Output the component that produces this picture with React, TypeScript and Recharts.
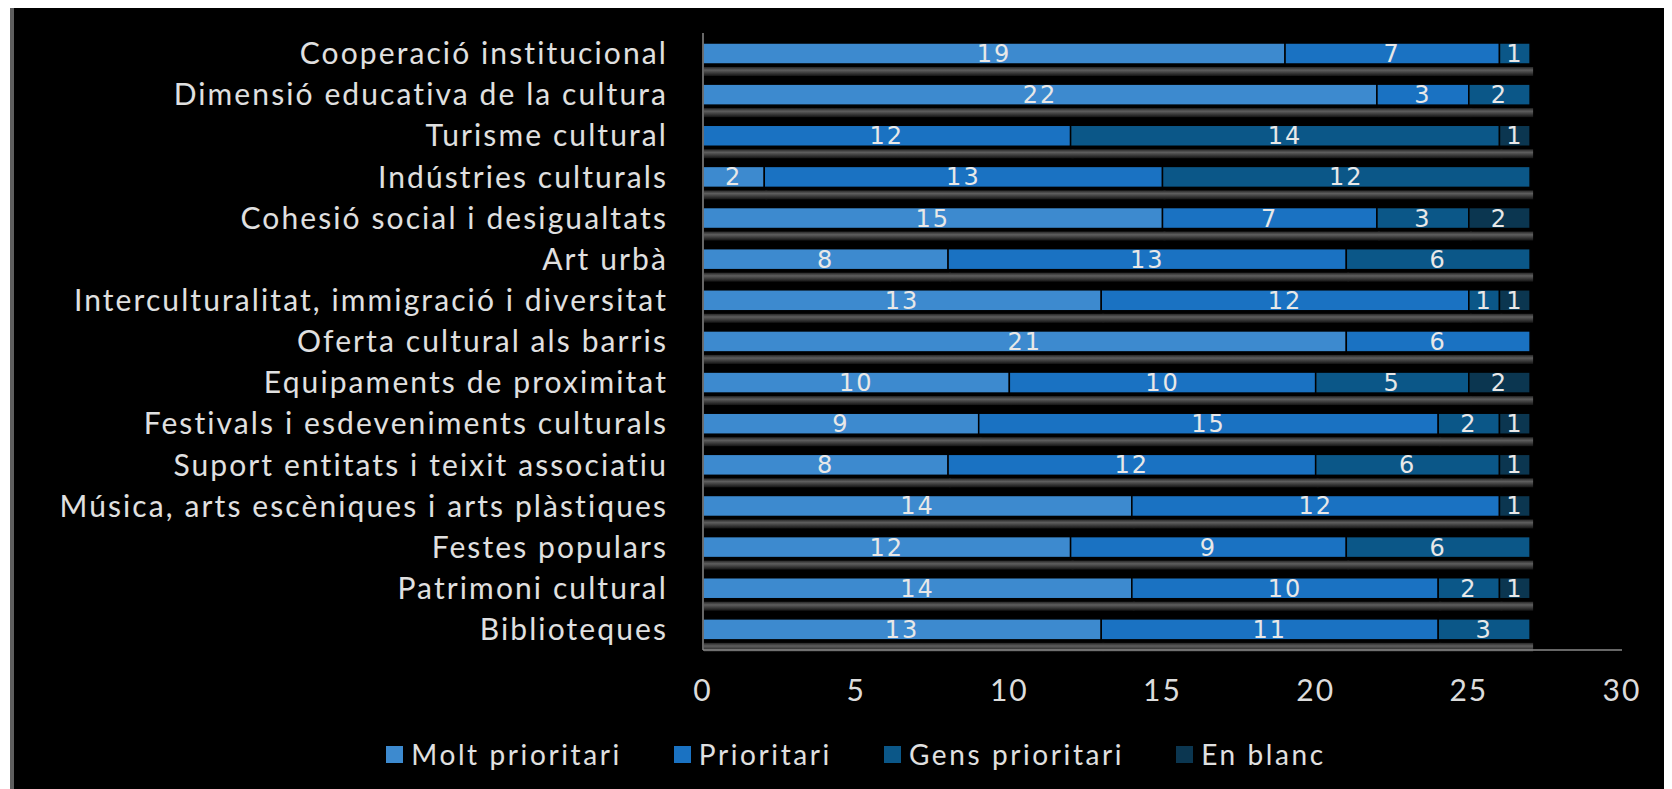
import React from 'react';
import { BarChart, Bar, XAxis, YAxis, Legend, LabelList } from 'recharts';

const categories = [
  'Cooperació institucional',
  'Dimensió educativa de la cultura',
  'Turisme cultural',
  'Indústries culturals',
  'Cohesió social i desigualtats',
  'Art urbà',
  'Interculturalitat, immigració i diversitat',
  'Oferta cultural als barris',
  'Equipaments de proximitat',
  'Festivals i esdeveniments culturals',
  'Suport entitats i teixit associatiu',
  'Música, arts escèniques i arts plàstiques',
  'Festes populars',
  'Patrimoni cultural',
  'Biblioteques',
];

const moltPrioritari = [19, 22, 0, 2, 15, 8, 13, 21, 10, 9, 8, 14, 12, 14, 13];
const prioritari = [7, 3, 12, 13, 7, 13, 12, 6, 10, 15, 12, 12, 9, 10, 11];
const gensPrioritari = [1, 2, 14, 12, 3, 6, 1, 0, 5, 2, 6, 0, 6, 2, 3];
const enBlanc = [0, 0, 1, 0, 2, 0, 1, 0, 2, 1, 1, 1, 0, 1, 0];

const xTicks = [0, 5, 10, 15, 20, 25, 30];

const series = [
  { key: 'molt', name: 'Molt prioritari', color: '#3d8acf' },
  { key: 'prior', name: 'Prioritari', color: '#1a72c2' },
  { key: 'gens', name: 'Gens prioritari', color: '#0b5788' },
  { key: 'blanc', name: 'En blanc', color: '#0b3650' },
];

const data = categories.map((name, i) => ({
  name,
  molt: moltPrioritari[i],
  prior: prioritari[i],
  gens: gensPrioritari[i],
  blanc: enBlanc[i],
}));

// bar segment with the grey drop shadow under it
const ShadowBar = (props: any) => {
  const { x, y, width, height, fill } = props;
  if (!width || width <= 0) return null;
  return (
    <g>
      <defs>
        <linearGradient id="barShadow" x1="0" y1="0" x2="0" y2="1">
          <stop offset="0" stopColor="#262626" />
          <stop offset="0.35" stopColor="#5e5e5e" />
          <stop offset="1" stopColor="#141414" />
        </linearGradient>
      </defs>
      <rect x={x + 1} y={y + height + 3} width={width + 2} height={9} fill="url(#barShadow)" />
      <rect x={x} y={y} width={width} height={height} fill={fill} stroke="#000" strokeWidth={1.5} />
    </g>
  );
};

const renderLegend = () => (
  <div
    style={{
      display: 'flex',
      justifyContent: 'center',
      gap: 52,
      paddingLeft: 76,
      fontFamily: 'Lato',
      fontSize: 28,
      letterSpacing: 2.6,
      color: '#e0e0e0',
    }}
  >
    {series.map((s) => (
      <div key={s.key} style={{ display: 'flex', alignItems: 'center', gap: 8 }}>
        <span style={{ width: 17, height: 17, background: s.color, display: 'inline-block' }} />
        <span>{s.name}</span>
      </div>
    ))}
  </div>
);

export default function App() {
  return (
    <div style={{ marginTop: -4, marginLeft: 2 }}>
      <div
        style={{
          width: 1658,
          height: 782,
          background: '#000',
          borderTop: '3px solid #5e5e5e',
          borderLeft: '4px solid #5e5e5e',
        }}
      >
        <BarChart
          width={1658}
          height={782}
          data={data}
          layout="vertical"
          barSize={21}
          margin={{ top: 26, right: 50, left: 0, bottom: 12 }}
        >
          <XAxis
            type="number"
            domain={[0, 30]}
            ticks={xTicks}
            tickLine={false}
            tickSize={0}
            tickMargin={30}
            height={87}
            axisLine={{ stroke: '#8a8a8a', strokeWidth: 1.5 }}
            tick={{ fill: '#dcdcdc', fontFamily: 'Lato', fontSize: 30, letterSpacing: 2 }}
          />
          <YAxis
            type="category"
            dataKey="name"
            width={689}
            tickLine={false}
            tickSize={0}
            tickMargin={35}
            interval={0}
            axisLine={{ stroke: '#8a8a8a', strokeWidth: 1.5 }}
            tick={{ fill: '#e0e0e0', fontFamily: 'Lato', fontSize: 30, letterSpacing: 2.1 }}
          />
          <Legend verticalAlign="bottom" height={40} content={renderLegend} />
          {series.map((s) => (
            <Bar
              key={s.key}
              dataKey={s.key}
              name={s.name}
              stackId="a"
              fill={s.color}
              shape={<ShadowBar />}
              isAnimationActive={false}
            >
              <LabelList
                dataKey={s.key}
                position="center"
                formatter={(v: any) => (v ? v : '')}
                fill="#e8e8e8"
                style={{ fontFamily: 'DejaVu Sans', fontSize: 24, letterSpacing: 2 }}
              />
            </Bar>
          ))}
        </BarChart>
      </div>
    </div>
  );
}
